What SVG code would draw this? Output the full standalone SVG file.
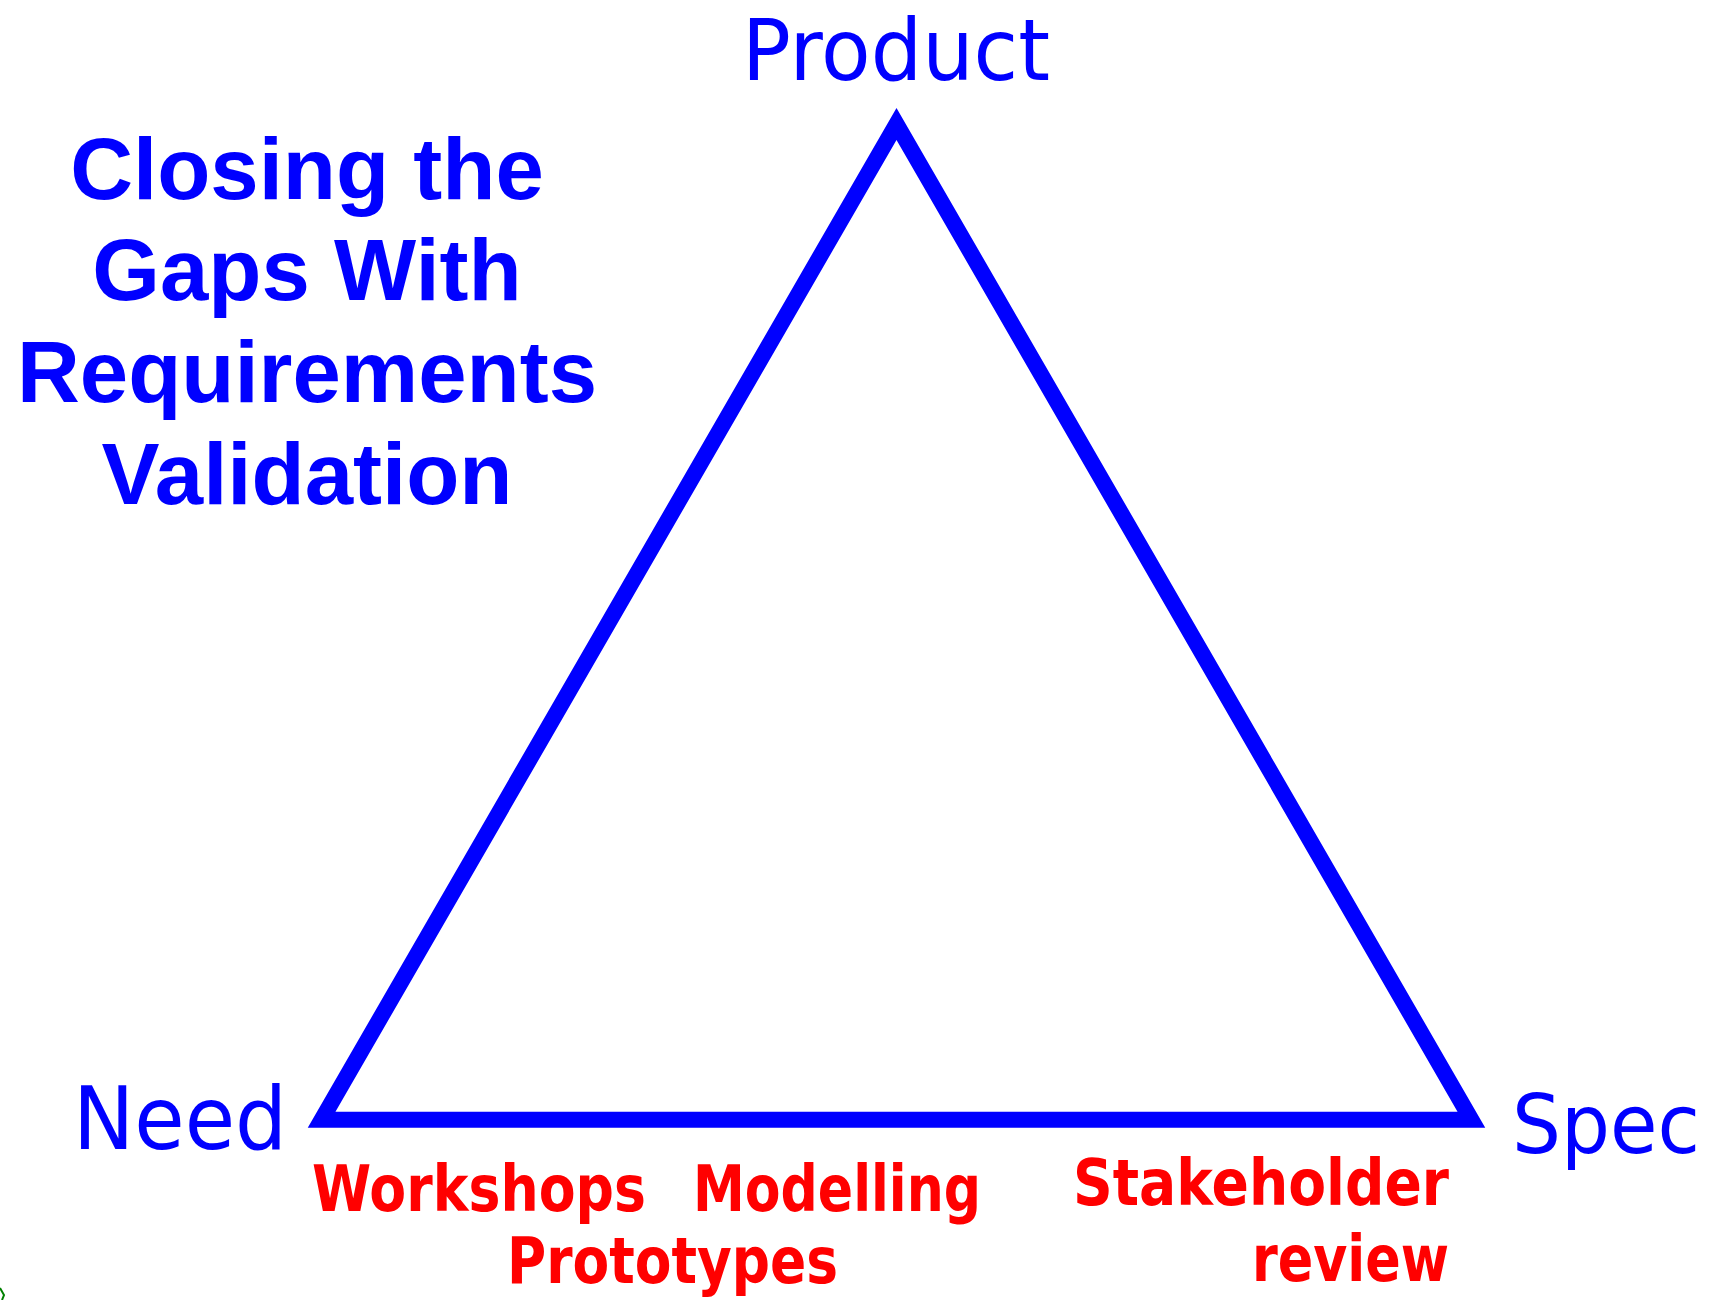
<svg xmlns="http://www.w3.org/2000/svg" width="1718" height="1300" viewBox="0 0 1718 1300">
  <style>
    .corner { font-family: "DejaVu Sans", "Liberation Sans", sans-serif; font-size: 88px; fill: #0000FF; }
    .title { font-family: "Liberation Sans", Arial, sans-serif; font-weight: bold; font-size: 87px; fill: #0000FF; text-anchor: middle; }
    .method { font-family: "DejaVu Sans", "Liberation Sans", sans-serif; font-weight: bold; font-size: 64px; fill: #FF0000; }
  </style>
  <rect width="1718" height="1300" fill="#FFFFFF"/>
  <g id="connectors">
    <polygon points="896.5,124 321.6,1119.7 1471.4,1119.7" fill="none" stroke="#0000FF" stroke-width="16" stroke-linejoin="miter" stroke-miterlimit="10"/>
  </g>
  <g id="title">
    <text class="title" x="307" y="199">Closing the</text>
    <text class="title" x="307" y="300">Gaps With</text>
    <text class="title" x="307" y="402">Requirements</text>
    <text class="title" x="307" y="504">Validation</text>
  </g>
  <g id="node-product">
    <text class="corner" x="742" y="80" style="font-size:85px" textLength="308" lengthAdjust="spacingAndGlyphs">Product</text>
  </g>
  <g id="node-need">
    <text class="corner" x="73" y="1149" textLength="214" lengthAdjust="spacingAndGlyphs">Need</text>
  </g>
  <g id="node-spec">
    <text class="corner" x="1512" y="1153" style="font-size:82px" textLength="188" lengthAdjust="spacingAndGlyphs">Spec</text>
  </g>
  <g id="label-workshops">
    <text class="method" x="312" y="1211" textLength="334" lengthAdjust="spacingAndGlyphs">Workshops</text>
  </g>
  <g id="label-modelling">
    <text class="method" x="693" y="1211" textLength="288" lengthAdjust="spacingAndGlyphs">Modelling</text>
  </g>
  <g id="label-prototypes">
    <text class="method" x="507" y="1283" textLength="331" lengthAdjust="spacingAndGlyphs">Prototypes</text>
  </g>
  <g id="label-stakeholder">
    <text class="method" x="1073" y="1205" textLength="376" lengthAdjust="spacingAndGlyphs">Stakeholder</text>
    <text class="method" x="1252" y="1281" textLength="197" lengthAdjust="spacingAndGlyphs">review</text>
  </g>
  <path d="M0,1288 L4,1295 L2,1300" fill="none" stroke="#008000" stroke-width="2"/>
</svg>
